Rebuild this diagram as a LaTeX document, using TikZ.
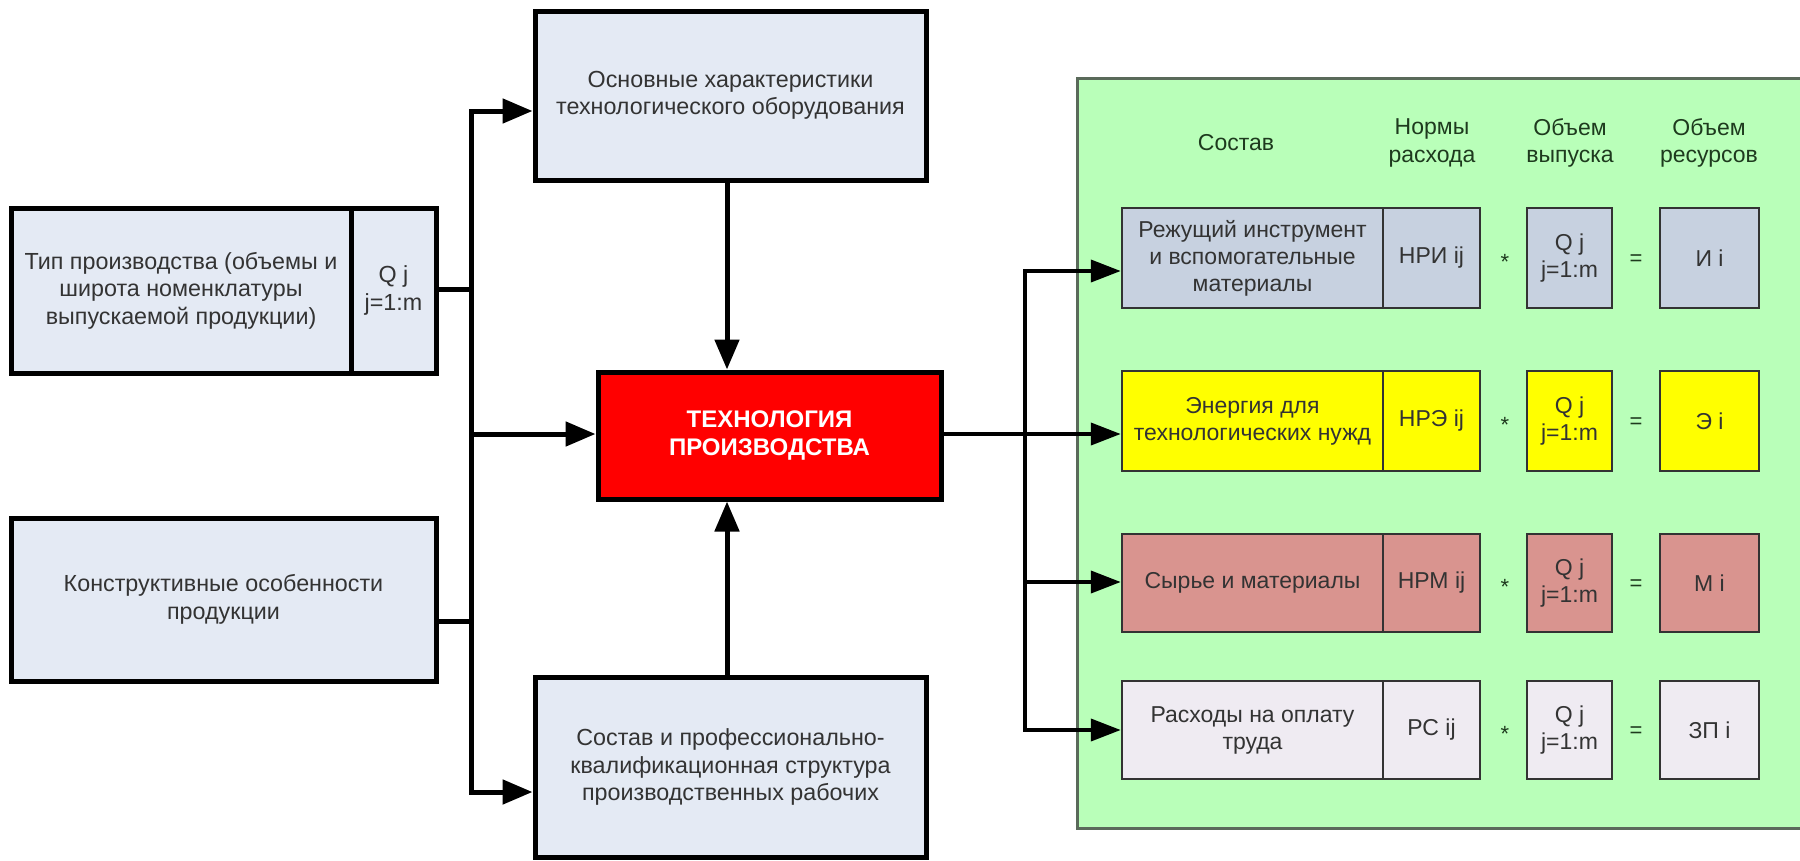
\documentclass[tikz,border=0pt]{standalone}
\usepackage{fontspec}
\setmainfont{Liberation Sans}
\usetikzlibrary{arrows.meta}
\definecolor{lb}{HTML}{E4EAF4}
\definecolor{rowA}{HTML}{C7D1E0}
\definecolor{rowB}{HTML}{FFFF00}
\definecolor{rowC}{HTML}{D9948F}
\definecolor{rowD}{HTML}{EFEBF2}
\definecolor{pgreen}{HTML}{B9FFB9}
\definecolor{pborder}{HTML}{5A6A5A}
\definecolor{txt}{HTML}{333333}
\definecolor{htxt}{HTML}{1E3A1E}
\definecolor{redbox}{HTML}{FF0000}
\begin{document}
\begin{tikzpicture}[x=1pt,y=-1pt,
  bbox/.style={draw=black, line width=5pt, fill=lb, text=txt, align=center, inner sep=0pt, font=\fontsize{23.3}{27.5}\selectfont},
  rbox/.style={draw=black!80, line width=2.5pt, text=txt, align=center, inner sep=0pt, font=\fontsize{23}{27}\selectfont},
  head/.style={text=htxt, align=center, inner sep=0pt, font=\fontsize{23}{27.5}\selectfont},
  op/.style={text=htxt, inner sep=0pt, font=\fontsize{22}{27}\selectfont},
  arr/.style={line width=5pt, -{Triangle[length=30pt,width=24pt]}},
  ln/.style={line width=5pt},
  rarr/.style={line width=4pt, -{Triangle[length=30pt,width=22pt]}}
]
\useasboundingbox (0,0) rectangle (1800,860);
\clip (0,0) rectangle (1800,860);

% green panel
\node[draw=pborder, line width=3pt, fill=pgreen, minimum width=780pt, minimum height=750pt, inner sep=0pt] (panel) at (1467,453) {};

% left / central boxes
\node[bbox, minimum width=391pt, minimum height=169pt] (osn) at (730.5,95.5) {Основные характеристики\\технологического оборудования};
\node[bbox, minimum width=340pt, minimum height=165pt] (tipA) at (181,290.5) {Тип производства (объемы и\\широта номенклатуры\\выпускаемой продукции)};
\node[bbox, minimum width=85pt, minimum height=165pt] (tipB) at (393.5,290.5) {Q j\\j=1:m};
\node[bbox, minimum width=425pt, minimum height=163pt] (kon) at (223.5,599.5) {Конструктивные особенности\\продукции};
\node[bbox, minimum width=391pt, minimum height=180pt] (sos) at (730.5,767) {Состав и профессионально-\\квалификационная структура\\производственных рабочих};
\node[bbox, fill=redbox, text=white, minimum width=343pt, minimum height=127pt, font=\fontsize{24}{28}\selectfont\bfseries] (tech) at (769.5,435.5) {ТЕХНОЛОГИЯ\\ПРОИЗВОДСТВА};

% headers
\node[head] (h1) at (1236,143) {Состав};
\node[head] (h2) at (1432,143) {Нормы\\расхода};
\node[head] (h3) at (1570,143) {Объем\\выпуска};
\node[head] (h4) at (1709,143) {Объем\\ресурсов};

% rows
\node[rbox, fill=rowA, minimum width=261pt, minimum height=100pt] (r1a) at (1252.5,258) {Режущий инструмент\\и вспомогательные\\материалы};
\node[rbox, fill=rowA, minimum width=97pt, minimum height=100pt] (r1b) at (1431.5,258) {НРИ ij};
\node[op] (r1s) at (1505,262) {*};
\node[rbox, fill=rowA, minimum width=85pt, minimum height=100pt] (r1q) at (1569.5,258) {Q j\\j=1:m};
\node[op] (r1e) at (1636,260) {=};
\node[rbox, fill=rowA, minimum width=99pt, minimum height=100pt] (r1r) at (1709.5,258) {И i};

\node[rbox, fill=rowB, minimum width=261pt, minimum height=100pt] (r2a) at (1252.5,421) {Энергия для\\технологических нужд};
\node[rbox, fill=rowB, minimum width=97pt, minimum height=100pt] (r2b) at (1431.5,421) {НРЭ ij};
\node[op] (r2s) at (1505,425) {*};
\node[rbox, fill=rowB, minimum width=85pt, minimum height=100pt] (r2q) at (1569.5,421) {Q j\\j=1:m};
\node[op] (r2e) at (1636,423) {=};
\node[rbox, fill=rowB, minimum width=99pt, minimum height=100pt] (r2r) at (1709.5,421) {Э i};

\node[rbox, fill=rowC, minimum width=261pt, minimum height=98pt] (r3a) at (1252.5,583) {Сырье и материалы};
\node[rbox, fill=rowC, minimum width=97pt, minimum height=98pt] (r3b) at (1431.5,583) {НРМ ij};
\node[op] (r3s) at (1505,587) {*};
\node[rbox, fill=rowC, minimum width=85pt, minimum height=98pt] (r3q) at (1569.5,583) {Q j\\j=1:m};
\node[op] (r3e) at (1636,585) {=};
\node[rbox, fill=rowC, minimum width=99pt, minimum height=98pt] (r3r) at (1709.5,583) {М i};

\node[rbox, fill=rowD, minimum width=261pt, minimum height=98pt] (r4a) at (1252.5,730) {Расходы на оплату\\труда};
\node[rbox, fill=rowD, minimum width=97pt, minimum height=98pt] (r4b) at (1431.5,730) {РС ij};
\node[op] (r4s) at (1505,734) {*};
\node[rbox, fill=rowD, minimum width=85pt, minimum height=98pt] (r4q) at (1569.5,730) {Q j\\j=1:m};
\node[op] (r4e) at (1636,732) {=};
\node[rbox, fill=rowD, minimum width=99pt, minimum height=98pt] (r4r) at (1709.5,730) {ЗП i};

% left bus
\coordinate (jTop) at (471,111);
\coordinate (jTip) at (471,289);
\coordinate (jMid) at (471,434);
\coordinate (jKon) at (471,621);
\coordinate (jBot) at (471,792);
\draw[ln, line cap=rect] (jTop) -- (jBot);
\draw[ln] (tipB.east |- jTip) -- (jTip);
\draw[ln] (kon.east |- jKon) -- (jKon);
\draw[arr] (jTop) -- (jTop -| osn.west);
\draw[arr] (jMid) -- (jMid -| tech.west);
\draw[arr] (jBot) -- (jBot -| sos.west);

% vertical arrows into red box
\coordinate (xA) at (727,0);
\draw[arr] (xA |- osn.south) -- (xA |- tech.north);
\draw[arr] (xA |- sos.north) -- (xA |- tech.south);

% right bus
\coordinate (k1) at (1025,271);
\coordinate (k2) at (1025,434);
\coordinate (k3) at (1025,582);
\coordinate (k4) at (1025,730);
\draw[rarr] (tech.east |- k2) -- (k2 -| r2a.west);
\draw[ln, line width=4pt, line cap=rect] (k1) -- (k4);
\draw[rarr] (k1) -- (k1 -| r1a.west);
\draw[rarr] (k3) -- (k3 -| r3a.west);
\draw[rarr] (k4) -- (k4 -| r4a.west);
\end{tikzpicture}
\end{document}
